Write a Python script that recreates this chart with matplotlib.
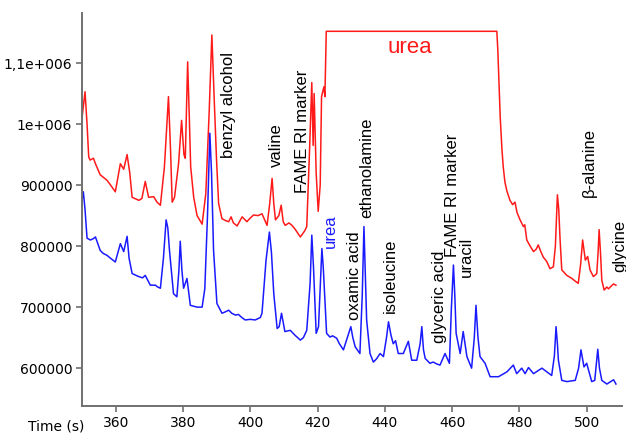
import matplotlib
matplotlib.use("Agg")
import matplotlib.pyplot as plt

# red trace (time s, intensity in thousands)
red_t = [350.0, 350.9, 351.5, 352.0, 352.4, 353.4, 354.0, 355.4, 357.4, 358.5,
         359.9, 361.4, 362.4, 363.4, 364.2, 364.9, 366.9, 367.8, 368.8, 369.8,
         371.3, 372.3, 373.3, 374.5, 375.7, 376.3, 376.8, 377.5, 378.7, 379.6,
         380.3, 380.7, 381.4, 381.9, 382.3, 383.2, 384.2, 385.7, 386.8, 387.8,
         388.6, 389.3, 390.0, 390.6, 391.6, 392.6, 393.6, 394.3, 395.0, 396.1,
         397.6, 399.0, 400.0, 401.0, 402.3, 403.5, 405.0, 405.8, 406.5, 407.0,
         407.5, 408.5, 409.2, 409.8, 410.4, 411.5, 412.4, 413.3, 414.9, 416.2,
         416.8, 417.6, 418.3, 418.7, 419.0, 419.6, 420.2, 420.8, 421.2, 421.9,
         422.2, 422.6, 473.3, 473.6, 474.0, 474.3, 474.8, 475.2, 475.7, 476.3,
         477.2, 478.0, 478.7, 479.3, 480.2, 481.2, 481.6, 482.2, 483.2, 484.2,
         485.0, 485.6, 486.3, 487.1, 488.1, 489.1, 490.1, 490.7, 491.3, 491.7,
         492.1, 492.6, 494.1, 495.6, 496.5, 497.5, 498.2, 498.8, 499.3, 499.6,
         500.3, 501.0, 502.0, 503.0, 503.4, 503.7, 504.1, 504.5, 505.2, 506.0,
         506.5, 507.0, 508.0, 508.7]
red_v = [1010, 1053, 1000, 946, 941, 944, 935, 917, 908, 900,
         889, 935, 926, 950, 920, 880, 875, 878, 906, 880,
         881, 872, 867, 930, 1045, 960, 872, 880, 935, 1006,
         950, 944, 1102, 1010, 930, 880, 850, 836, 886, 1020,
         1146, 1040, 940, 870, 845, 842, 840, 848, 838, 833,
         848, 840, 846, 851, 850, 853, 834, 870, 911, 870,
         843, 850, 867, 840, 834, 838, 834, 828, 815, 825,
         832, 952, 1068, 965, 1050, 920, 857, 900, 1045, 1061,
         1045, 1152, 1152, 1120, 1060, 1012, 960, 930, 905, 890,
         875, 868, 872, 855, 843, 832, 835, 810, 800, 791,
         795, 802, 792, 782, 775, 763, 766, 800, 884, 860,
         810, 761, 752, 747, 743, 739, 770, 810, 790, 777,
         783, 761, 750, 755, 790, 827, 790, 744, 728, 733,
         730, 733, 738, 736]

# blue trace
blue_t = [350.0, 350.4, 350.9, 351.5, 352.5, 353.3, 354.0, 355.4, 356.3, 357.4,
          358.5, 359.9, 360.7, 361.4, 362.4, 363.4, 364.0, 364.9, 366.9, 368.0,
          368.8, 370.3, 371.8, 372.5, 373.3, 374.2, 375.0, 375.5, 376.0, 377.2,
          378.2, 378.8, 379.2, 379.7, 380.2, 381.2, 382.2, 384.2, 385.7, 386.5,
          387.3, 388.0, 388.5, 389.1, 390.1, 391.6, 392.5, 393.6, 394.5, 395.6,
          396.5, 397.5, 398.5, 400.0, 401.5, 403.0, 403.5, 404.7, 405.7, 406.3,
          407.0, 408.0, 408.6, 409.3, 410.3, 411.9, 413.3, 414.9, 415.8, 416.8,
          417.8, 418.3, 418.8, 419.6, 420.3, 421.3, 421.7, 422.7, 423.7, 424.5,
          425.7, 426.5, 427.7, 429.9, 430.5, 431.2, 432.6, 433.3, 433.8, 434.6,
          435.6, 436.6, 437.5, 438.6, 439.6, 440.5, 441.1, 441.8, 442.5, 443.2,
          444.0, 445.5, 447.0, 448.0, 449.5, 450.5, 451.0, 451.5, 452.0, 453.4,
          454.4, 455.4, 456.4, 457.9, 459.2, 459.8, 460.4, 460.8, 461.2, 462.4,
          463.3, 464.4, 465.8, 466.6, 467.1, 467.7, 468.3, 469.8, 471.3, 473.8,
          476.3, 478.2, 479.2, 480.7, 481.7, 482.7, 484.2, 486.7, 489.6, 490.4,
          490.9, 491.3, 491.6, 492.6, 494.1, 496.6, 497.6, 498.3, 499.2, 500.0,
          501.5, 502.4, 503.3, 503.8, 504.5, 506.0, 508.0, 508.7]
blue_v = [875, 889, 860, 813, 810, 812, 815, 793, 788, 785,
          780, 774, 790, 804, 791, 816, 780, 755, 750, 748,
          752, 736, 736, 733, 731, 780, 843, 830, 793, 722,
          717, 760, 808, 760, 731, 747, 703, 700, 700, 730,
          850, 985, 920, 793, 706, 690, 692, 695, 690, 687,
          688, 683, 679, 680, 679, 683, 690, 777, 823, 790,
          722, 665, 668, 690, 660, 662, 654, 646, 650, 662,
          739, 818, 766, 657, 668, 796, 766, 657, 651, 653,
          649, 640, 630, 668, 650, 635, 624, 720, 832, 679,
          624, 610, 615, 624, 619, 650, 676, 655, 640, 645,
          624, 624, 644, 613, 613, 640, 668, 630, 616, 608,
          610, 607, 605, 624, 608, 700, 769, 720, 657, 624,
          660, 619, 600, 650, 703, 650, 619, 608, 586, 586,
          594, 605, 591, 600, 591, 601, 591, 600, 588, 620,
          668, 640, 613, 580, 578, 580, 600, 630, 602, 608,
          578, 580, 631, 600, 580, 574, 581, 574]

# peak labels: text, time, intensity (thousands) at the start of the text
peak_names = ["benzyl alcohol", "valine", "FAME RI marker", "oxamic acid",
              "ethanolamine", "isoleucine", "glyceric acid", "FAME RI marker",
              "uracil", "β-alanine", "glycine"]
peak_t = [393.4, 407.7, 415.5, 430.9, 434.6, 441.6, 456.4, 460.0, 464.1, 500.7, 509.8]
peak_v = [944, 930, 887, 679, 846, 690, 641, 782, 749, 880, 757]

yticks = [600000, 700000, 800000, 900000, 1000000, 1100000]
ytick_labels = ["600000", "700000", "800000", "900000", "1e+006", "1,1e+006"]
xticks = [360, 380, 400, 420, 440, 460, 480, 500]

fig = plt.figure(figsize=(6.26, 4.33), dpi=100)
ax = fig.add_axes([82 / 626, 27 / 433, 540 / 626, 393 / 433])

ax.plot(red_t, [v * 1000 for v in red_v], color="#ff1a1a", lw=1.1)
ax.plot(blue_t, [v * 1000 for v in blue_v], color="#1a1aff", lw=1.1)

ax.set_xlim(350, 510.5)
ax.set_ylim(538000, 1182000)

for sp in ["top", "right"]:
    ax.spines[sp].set_visible(False)
for sp in ["left", "bottom"]:
    ax.spines[sp].set_color("#707070")
    ax.spines[sp].set_linewidth(1.4)

ax.set_xticks(xticks)
ax.set_xticklabels([str(x) for x in xticks], fontsize=10, family="DejaVu Sans")
ax.set_yticks(yticks)
ax.set_yticklabels(ytick_labels, fontsize=10, family="DejaVu Sans")
ax.tick_params(length=4, width=1.2, color="#707070", pad=3)

fig.text(56 / 626, 7 / 433, "Time (s)", fontsize=10, family="DejaVu Sans",
         ha="center", va="center")

for name, t, v in zip(peak_names, peak_t, peak_v):
    ax.text(t, v * 1000, name, rotation=90, ha="center", va="bottom",
            fontsize=12, family="Liberation Sans", clip_on=False)

ax.text(423.7, 796700, "urea", rotation=90, ha="center", va="bottom",
        fontsize=12, family="Liberation Sans", color="#1a1aff")
ax.text(447.5, 1126000, "urea", ha="center", va="center",
        fontsize=16, family="Liberation Sans", color="#ff1a1a")

fig.savefig("out.png", dpi=100)
